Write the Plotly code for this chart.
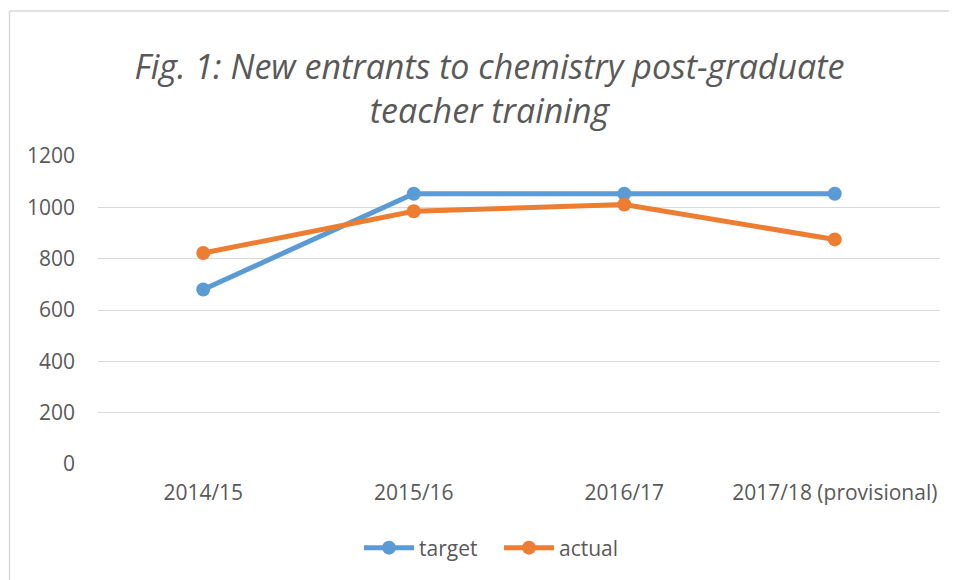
import plotly.graph_objects as go

categories = ["2014/15", "2015/16", "2016/17", "2017/18 (provisional)"]
target = [680, 1053, 1053, 1053]
actual = [822, 985, 1011, 875]
y_ticks = [0, 200, 400, 600, 800, 1000, 1200]

FONT = "Open Sans"
GREY = "#595959"

fig = go.Figure()
fig.add_trace(go.Scatter(x=categories, y=target, name="target", mode="lines+markers",
                         line=dict(color="#5B9BD5", width=5),
                         marker=dict(size=14, color="#5B9BD5")))
fig.add_trace(go.Scatter(x=categories, y=actual, name="actual", mode="lines+markers",
                         line=dict(color="#ED7D31", width=5),
                         marker=dict(size=14, color="#ED7D31")))

# page body has an 8px margin, so everything is shifted by 8px
OFF = 8
W, H = 957 - OFF, 580 - OFF
L, T = 98 - OFF, 156 - OFF
R = W - (940 - OFF)
B = H - (464 - OFF)
pw, ph = W - L - R, H - T - B

def px(x):
    return (x - OFF - L) / pw

def py(y):
    return (H - B - (y - OFF)) / ph

fig.update_layout(
    width=W, height=H,
    margin=dict(l=L, r=R, t=T, b=B),
    paper_bgcolor="white", plot_bgcolor="white",
    title=dict(text="Fig. 1: New entrants to chemistry post-graduate<br>teacher training",
               font=dict(family=FONT, size=34, color=GREY, style="italic"),
               x=(489.5 - OFF) / W, xanchor="center", xref="container",
               y=1 - (79 - OFF) / H, yanchor="middle", yref="container"),
    xaxis=dict(type="category", range=[-0.5, 3.5], showgrid=False, showline=False,
               zeroline=False, ticks="", tickfont=dict(family=FONT, size=21, color=GREY),
               ticklabelstandoff=14),
    yaxis=dict(range=[0, 1200], tickvals=y_ticks, showgrid=True, gridcolor="#D9D9D9",
               gridwidth=1, zeroline=False, showline=False, ticks="",
               tickfont=dict(family=FONT, size=21, color=GREY), ticklabelstandoff=22),
    legend=dict(orientation="h", x=px(364) - 5 / pw, xanchor="left", y=py(548), yanchor="middle",
                font=dict(family=FONT, size=21, color=GREY), itemwidth=50,
                entrywidth=75, entrywidthmode="pixels"),
    showlegend=True,
    shapes=[
        dict(type="line", xref="paper", yref="paper", x0=px(9.5), x1=px(960), y0=py(11), y1=py(11),
             line=dict(color="#D9D9D9", width=1.5)),
        dict(type="line", xref="paper", yref="paper", x0=px(9.5), x1=px(9.5), y0=py(11), y1=py(585),
             line=dict(color="#D9D9D9", width=1.5)),
    ],
)

fig.write_html("out.html")
